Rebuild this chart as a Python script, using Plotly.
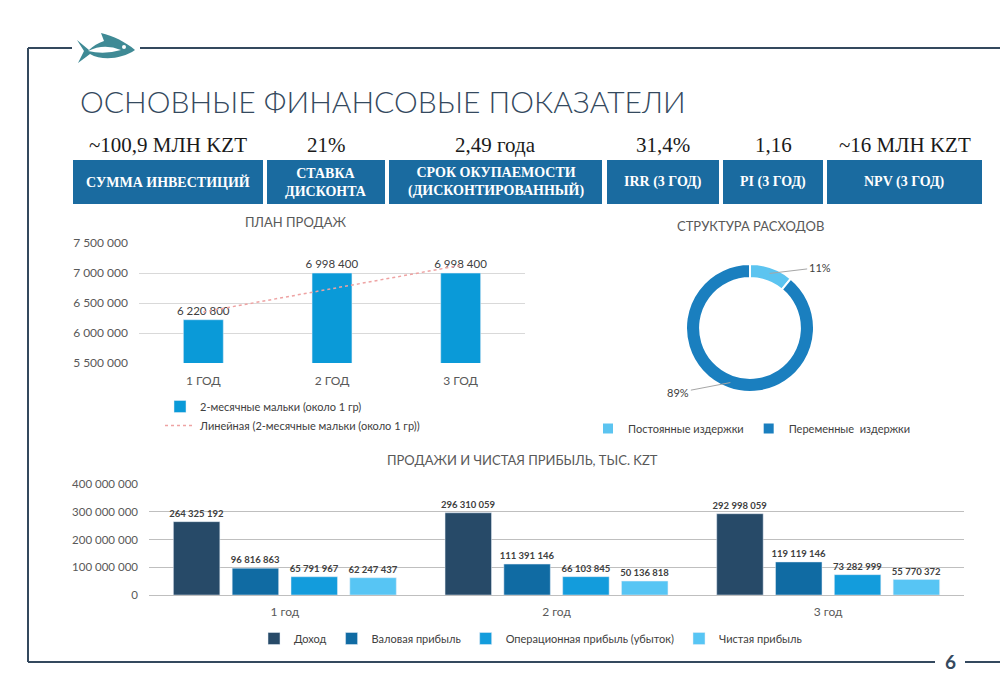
import numpy as np
import plotly.graph_objects as go

# ---------------- data ----------------
kpi_values = ["~100,9 МЛН KZT", "21%", "2,49 года", "31,4%", "1,16", "~16 МЛН KZT"]
kpi_labels = ["СУММА ИНВЕСТИЦИЙ", "СТАВКА<br>ДИСКОНТА", "СРОК ОКУПАЕМОСТИ<br>(ДИСКОНТИРОВАННЫЙ)",
              "IRR (3 ГОД)", "PI (3 ГОД)", "NPV (3 ГОД)"]

plan_years = ["1 ГОД", "2 ГОД", "3 ГОД"]
plan_values = [6220800, 6998400, 6998400]
plan_series = "2-месячные мальки (около 1 гр)"

cost_labels = ["Постоянные издержки", "Переменные  издержки"]
cost_shares = [11, 89]

fin_years = ["1 год", "2 год", "3 год"]
revenue = [264325192, 296310059, 292998059]
gross_profit = [96816863, 111391146, 119119146]
operating_profit = [65791967, 66103845, 73282999]
net_profit = [62247437, 50136818, 55770372]
fin_series = ["Доход", "Валовая прибыль", "Операционная прибыль (убыток)", "Чистая прибыль"]

# ---------------- layout helpers ----------------
W, H = 1000, 692
def px(x): return x / W
def py(y): return 1 - y / H
def P(x, y): return f"{px(x):.4f},{py(y):.4f}"

SANS = "Lato"
SERIF = "Liberation Serif"
DARK = "#34495e"
BOX = "#1a6ba0"
GREY = "#595959"

def note(x, y, text, font, **kw):
    d = dict(x=px(x), y=py(y), xref="paper", yref="paper", text=text, showarrow=False,
             xanchor="center", yanchor="middle", font=font)
    d.update(kw)
    return d

fig = go.Figure()

# ---- chart 1: sales plan ----
fig.add_trace(go.Bar(
    x=plan_years, y=plan_values, name=plan_series, width=0.31,
    marker=dict(color="#0a9ad8"), texttemplate="%{y:,d}", textposition="outside",
    constraintext="none", cliponaxis=False,
    textfont=dict(family=SANS, size=11.5, color="#404040"),
    xaxis="x", yaxis="y", legend="legend"))
xi = np.arange(1, len(plan_values) + 1)
k, b = np.polyfit(xi, plan_values, 1)
fig.add_trace(go.Scatter(
    x=plan_years, y=k * xi + b, mode="lines",
    name="Линейная (" + plan_series + ")",
    line=dict(color="#eea3a3", width=1.5, dash="dot"),
    xaxis="x", yaxis="y", legend="legend"))

# ---- chart 2: cost structure donut ----
fig.add_trace(go.Pie(
    labels=cost_labels, values=cost_shares, hole=0.78, sort=False, direction="clockwise",
    marker=dict(colors=["#5cc4f0", "#1a7fbf"], line=dict(color="white", width=2)),
    textinfo="none", domain=dict(x=[px(686), px(814)], y=[py(392), py(264)]),
    legend="legend2"))

# ---- chart 3: sales & net profit ----
fin_colors = ["#274a68", "#106ba3", "#139cdc", "#57c5f4"]
for name, vals, col in zip(fin_series, [revenue, gross_profit, operating_profit, net_profit], fin_colors):
    fig.add_trace(go.Bar(
        x=fin_years, y=vals, name=name, marker=dict(color=col),
        texttemplate="%{y:,d}", textposition="outside", constraintext="none", cliponaxis=False,
        textfont=dict(family=SANS, size=9.5, color="#404040", weight="bold"),
        xaxis="x2", yaxis="y2", legend="legend3"))

# ---------------- decorations ----------------
shapes = []
line = dict(color=DARK, width=2)
for x0, y0, x1, y1 in [(28, 48, 72, 48), (140, 48, 1000, 48), (28, 48, 28, 662),
                       (28, 662, 935, 662), (965, 662, 1000, 662)]:
    shapes.append(dict(type="line", xref="paper", yref="paper", x0=px(x0), x1=px(x1),
                       y0=py(y0), y1=py(y1), line=line))
fish = (f"M {P(135,50)} C {P(126,42)} {P(113,36)} {P(101,33)} L {P(104,41)} "
        f"C {P(98,43)} {P(93,46)} {P(89,50)} L {P(77,40)} L {P(84,51)} L {P(78,63)} L {P(90,54)} "
        f"C {P(102,61)} {P(122,59)} {P(135,50)} Z")
shapes.append(dict(type="path", xref="paper", yref="paper", path=fish,
                   fillcolor="#3f8a95", line=dict(width=0)))
stripe = f"M {P(88,51)} Q {P(104,43)} {P(121,50)} Q {P(104,55)} {P(88,51)} Z"
shapes.append(dict(type="path", xref="paper", yref="paper", path=stripe,
                   fillcolor="white", line=dict(width=0)))
shapes.append(dict(type="circle", xref="paper", yref="paper", x0=px(122), x1=px(126),
                   y0=py(49), y1=py(45), fillcolor="white", line=dict(width=0)))

box_edges = [(73, 263), (267, 385), (389, 602), (607, 719), (723, 823), (827, 982)]
annotations = []
for (x0, x1), val, lab in zip(box_edges, kpi_values, kpi_labels):
    shapes.append(dict(type="rect", xref="paper", yref="paper", x0=px(x0), x1=px(x1),
                       y0=py(204), y1=py(160), fillcolor=BOX, line=dict(width=0), layer="below"))
    annotations.append(note((x0 + x1) / 2, 145, val, dict(family=SERIF, size=21, color="#1a1a1a")))
    annotations.append(note((x0 + x1) / 2, 182, lab,
                            dict(family=SERIF, size=14, color="white", weight="bold")))

annotations += [
    note(78, 101, "ОСНОВНЫЕ ФИНАНСОВЫЕ ПОКАЗАТЕЛИ",
         dict(family=SANS, size=30, color=DARK, weight=300), xanchor="left"),
    note(950, 661, "6", dict(family=SANS, size=19, color=DARK, weight="bold")),
    note(295, 222, "ПЛАН ПРОДАЖ", dict(family=SANS, size=13, color=GREY)),
    note(750, 226, "СТРУКТУРА РАСХОДОВ", dict(family=SANS, size=13, color=GREY)),
    note(522, 460, "ПРОДАЖИ И ЧИСТАЯ ПРИБЫЛЬ, ТЫС. KZT", dict(family=SANS, size=13, color=GREY)),
]

# donut percentage labels with leader lines, anchored at slice mid-angles
cx, cy, r = 750, 328, 58
total = sum(cost_shares)
start = 0.0
offsets = [(50, -6), (-52, 10)]
for share, (dx, dy) in zip(cost_shares, offsets):
    frac = share / total
    mid = (start + frac / 2) * 2 * np.pi
    start += frac
    ax_, ay_ = cx + r * np.sin(mid), cy - r * np.cos(mid)
    annotations.append(dict(x=px(ax_), y=py(ay_), xref="paper", yref="paper",
                            text=f"{frac * 100:.0f}%", showarrow=True, arrowhead=0, arrowwidth=1,
                            arrowcolor="#a6a6a6", ax=dx, ay=dy, standoff=0,
                            font=dict(family=SANS, size=11, color="#404040")))

axis_font = dict(family=SANS, size=12, color=GREY)
legend_font = dict(family=SANS, size=11, color="#404040")
fig.update_layout(
    width=W, height=H, margin=dict(l=0, r=0, t=0, b=0, autoexpand=False),
    paper_bgcolor="white", plot_bgcolor="rgba(0,0,0,0)",
    separators=", ", showlegend=True,
    bargap=0.134, bargroupgap=0.21, barmode="group",
    font=dict(family=SANS, color=GREY),
    xaxis=dict(domain=[px(139), px(525)], anchor="y", showgrid=False, showline=False,
               ticks="", tickfont=axis_font, ticklabelstandoff=9),
    yaxis=dict(domain=[py(363), py(243)], anchor="x", range=[5500000, 7500000], dtick=500000,
               tickformat=",d", gridcolor="#d9d9d9", gridwidth=1, zeroline=False,
               showline=False, ticks="", tickfont=axis_font, ticklabelstandoff=10),
    xaxis2=dict(domain=[px(149), px(964)], anchor="y2", showgrid=False, showline=False,
                ticks="", tickfont=axis_font, ticklabelstandoff=8),
    yaxis2=dict(domain=[py(595), py(484)], anchor="x2", range=[0, 400000000], dtick=100000000,
                tickformat=",d", gridcolor="#bfbfbf", gridwidth=1, zeroline=True,
                zerolinecolor="#bfbfbf", zerolinewidth=1, showline=False, ticks="",
                tickfont=dict(family=SANS, size=11.5, color=GREY), ticklabelstandoff=10),
    legend=dict(x=px(160), y=py(392), xanchor="left", yanchor="top", orientation="v",
                font=legend_font, bgcolor="rgba(0,0,0,0)", tracegroupgap=2),
    legend2=dict(x=px(588), y=py(414), xanchor="left", yanchor="top", orientation="h",
                 font=legend_font, bgcolor="rgba(0,0,0,0)"),
    legend3=dict(x=px(254), y=py(624), xanchor="left", yanchor="top", orientation="h",
                 font=legend_font, bgcolor="rgba(0,0,0,0)"),
    shapes=shapes, annotations=annotations,
)

fig.write_html("out.html")
